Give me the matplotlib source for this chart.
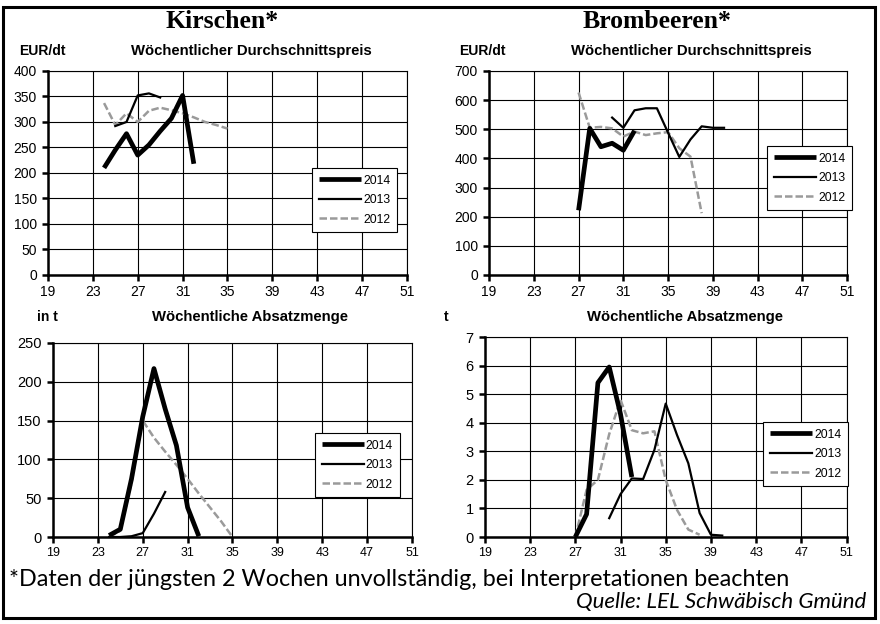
import matplotlib
matplotlib.use("Agg")
import matplotlib.pyplot as plt
from matplotlib.patches import Rectangle

# week numbers and values
kir_preis_w14 = [24, 25, 26, 27, 28, 29, 30, 31, 32]
kir_preis_14 = [210, 245, 277, 235, 255, 282, 307, 352, 218]
kir_preis_w13 = [25, 26, 27, 28, 29]
kir_preis_13 = [292, 300, 352, 356, 348]
kir_preis_w12 = [24, 25, 26, 27, 28, 29, 30, 31, 32, 33, 34, 35]
kir_preis_12 = [337, 294, 317, 300, 322, 328, 323, 317, 309, 300, 294, 287]

brom_preis_w14 = [27, 28, 29, 30, 31, 32]
brom_preis_14 = [222, 503, 440, 452, 428, 495]
brom_preis_w13 = [30, 31, 32, 33, 34, 35, 36, 37, 38, 39, 40]
brom_preis_13 = [540, 505, 565, 572, 572, 488, 405, 465, 510, 505, 505]
brom_preis_w12 = [27, 28, 29, 30, 31, 32, 33, 34, 35, 36, 37, 38]
brom_preis_12 = [626, 505, 508, 503, 475, 492, 480, 486, 490, 435, 406, 212]

kir_menge_w14 = [24, 25, 26, 27, 28, 29, 30, 31, 32]
kir_menge_14 = [2, 10, 75, 155, 217, 165, 118, 38, 1]
kir_menge_w13 = [24, 25, 26, 27, 28, 29]
kir_menge_13 = [0, 0, 1, 5, 30, 58]
kir_menge_w12 = [24, 25, 26, 27, 28, 29, 30, 31, 32, 33, 34, 35]
kir_menge_12 = [0, 8, 70, 150, 128, 110, 93, 75, 56, 38, 20, 0]

brom_menge_w14 = [27, 28, 29, 30, 31, 32]
brom_menge_14 = [0, 0.8, 5.4, 5.95, 4.3, 2.1]
brom_menge_w13 = [30, 31, 32, 33, 34, 35, 36, 37, 38, 39, 40]
brom_menge_13 = [0.66, 1.5, 2.05, 2.03, 3.05, 4.67, 3.57, 2.58, 0.84, 0.08, 0.05]
brom_menge_w12 = [27, 28, 29, 30, 31, 32, 33, 34, 35, 36, 37, 38]
brom_menge_12 = [0, 1.65, 2.0, 3.6, 4.8, 3.74, 3.63, 3.7, 2.0, 0.95, 0.26, 0.08]

x_ticks = list(range(19, 52, 4))
sans = "Liberation Sans"

fig = plt.figure(figsize=(8.8, 6.24), dpi=100)
fig.patch.set_facecolor("white")


def make_ax(rect, series, ymax, ystep, leg_anchor, xsize, ysize):
    ax = fig.add_axes(rect)
    w14, v14, w13, v13, w12, v12 = series
    ax.plot(w14, v14, color="black", lw=3.4, solid_joinstyle="round",
            solid_capstyle="butt", label="2014", zorder=4)
    ax.plot(w13, v13, color="black", lw=1.6, solid_joinstyle="round",
            label="2013", zorder=3)
    ax.plot(w12, v12, color="#9a9a9a", lw=1.8, ls=(0, (3, 1.2)),
            label="2012", zorder=2)
    ax.set_xlim(19, 51)
    ax.set_ylim(0, ymax)
    ax.set_xticks(x_ticks)
    ax.set_yticks([ystep * i for i in range(int(round(ymax / ystep)) + 1)])
    ax.grid(True, color="black", lw=0.8)
    ax.set_axisbelow(True)
    for s in ["top", "right"]:
        ax.spines[s].set_linewidth(0.8)
    for s in ["left", "bottom"]:
        ax.spines[s].set_linewidth(1.8)
    ax.tick_params(direction="out", length=4, width=1.8, pad=3)
    ax.tick_params(axis="x", labelsize=xsize)
    ax.tick_params(axis="y", labelsize=ysize, pad=4)
    for lab in ax.get_xticklabels() + ax.get_yticklabels():
        lab.set_fontfamily(sans)
    leg = ax.legend(loc="upper left", bbox_to_anchor=leg_anchor, frameon=True,
                    fancybox=False, edgecolor="black", framealpha=1,
                    prop={"family": sans, "size": 8.7}, handlelength=3.5,
                    handletextpad=0.15, borderpad=0.55, labelspacing=0.62,
                    borderaxespad=0)
    leg.get_frame().set_linewidth(0.8)
    return ax


make_ax([0.0545, 0.5593, 0.408, 0.327],
        [kir_preis_w14, kir_preis_14, kir_preis_w13, kir_preis_13, kir_preis_w12, kir_preis_12],
        400, 50, (0.736, 0.525), 10, 10)
make_ax([0.5557, 0.5593, 0.407, 0.327],
        [brom_preis_w14, brom_preis_14, brom_preis_w13, brom_preis_13, brom_preis_w12, brom_preis_12],
        700, 100, (0.777, 0.632), 10, 10)
make_ax([0.0602, 0.1394, 0.408, 0.311],
        [kir_menge_w14, kir_menge_14, kir_menge_w13, kir_menge_13, kir_menge_w12, kir_menge_12],
        250, 50, (0.73, 0.536), 9, 10.5)
make_ax([0.551, 0.1394, 0.411, 0.3205],
        [brom_menge_w14, brom_menge_14, brom_menge_w13, brom_menge_13, brom_menge_w12, brom_menge_12],
        7, 1, (0.77, 0.575), 9, 10.5)


def px(x, y):
    return x / 880, 1 - y / 624


# headings
fig.text(*px(222, 22), "Kirschen*", ha="center", va="center",
         family="Liberation Serif", weight="bold", fontsize=18.5)
fig.text(*px(657, 22), "Brombeeren*", ha="center", va="center",
         family="Liberation Serif", weight="bold", fontsize=18.5)
fig.text(*px(42, 51), "EUR/dt", ha="center", va="center", family=sans,
         weight="bold", fontsize=10)
fig.text(*px(251, 51), "Wöchentlicher Durchschnittspreis", ha="center",
         va="center", family=sans, weight="bold", fontsize=10.7)
fig.text(*px(482, 51), "EUR/dt", ha="center", va="center", family=sans,
         weight="bold", fontsize=10)
fig.text(*px(691, 51), "Wöchentlicher Durchschnittspreis", ha="center",
         va="center", family=sans, weight="bold", fontsize=10.7)
fig.text(*px(47, 317), "in t", ha="center", va="center", family=sans,
         weight="bold", fontsize=10)
fig.text(*px(250, 317), "Wöchentliche Absatzmenge", ha="center",
         va="center", family=sans, weight="bold", fontsize=10.7)
fig.text(*px(446, 317), "t", ha="center", va="center", family=sans,
         weight="bold", fontsize=10)
fig.text(*px(685, 317), "Wöchentliche Absatzmenge", ha="center",
         va="center", family=sans, weight="bold", fontsize=10.7)

# footnote
fig.text(*px(9, 579), "*Daten der jüngsten 2 Wochen unvollständig, bei Interpretationen beachten",
         ha="left", va="center", family="Lato", fontsize=16.8)
fig.text(*px(866, 602), "Quelle: LEL Schwäbisch Gmünd", ha="right", va="center",
         family="Lato", style="italic", fontsize=16)

# outer frame
fig.patches.append(Rectangle(px(3, 618), 872 / 880, 611 / 624, transform=fig.transFigure,
                             fill=False, edgecolor="black", lw=2.2))

fig.savefig("out.png", dpi=100)
